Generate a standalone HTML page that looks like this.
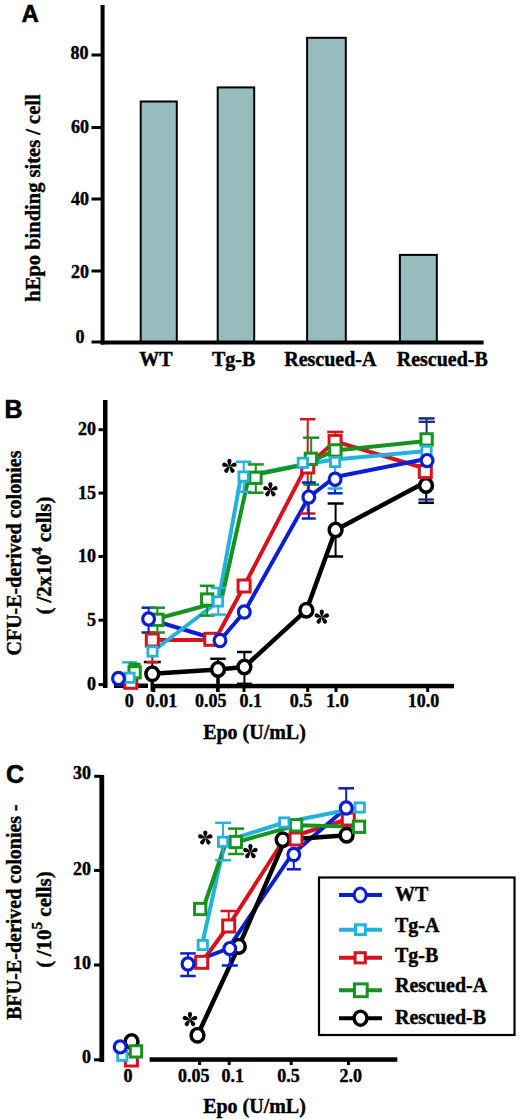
<!DOCTYPE html>
<html><head><meta charset="utf-8"><style>
html,body{margin:0;padding:0;background:#fff;}
svg{display:block;}
</style></head><body>
<svg width="520" height="1119" viewBox="0 0 520 1119">
<defs><g id="ast"><path id="pet" d="M0,0 C-0.9,-1.6 -2.1,-3.6 -2.1,-5.4 A2.1,2.1 0 1 1 2.1,-5.4 C2.1,-3.6 0.9,-1.6 0,0 Z" fill="#000"/><use href="#pet" transform="rotate(72)"/><use href="#pet" transform="rotate(144)"/><use href="#pet" transform="rotate(216)"/><use href="#pet" transform="rotate(288)"/></g></defs>
<rect width="520" height="1119" fill="#fff"/>
<text x="21.5" y="21.7" font-family="Liberation Sans" font-weight="bold" font-size="24" text-anchor="start" stroke="#000" stroke-width="0.6" stroke-linejoin="round" >A</text>
<rect x="100.6" y="5" width="4" height="339.5" fill="#000" stroke="none" stroke-width="0"/>
<rect x="91.5" y="53.5" width="10" height="3" fill="#000" stroke="none" stroke-width="0"/>
<text x="88.5" y="59.2" font-family="Liberation Serif" font-weight="bold" font-size="18" text-anchor="end" stroke="#000" stroke-width="0.4" stroke-linejoin="round" >80</text>
<rect x="91.5" y="126.0" width="10" height="3" fill="#000" stroke="none" stroke-width="0"/>
<text x="89" y="132.5" font-family="Liberation Serif" font-weight="bold" font-size="18" text-anchor="end" stroke="#000" stroke-width="0.4" stroke-linejoin="round" >60</text>
<rect x="91.5" y="197.5" width="10" height="3" fill="#000" stroke="none" stroke-width="0"/>
<text x="89" y="205" font-family="Liberation Serif" font-weight="bold" font-size="18" text-anchor="end" stroke="#000" stroke-width="0.4" stroke-linejoin="round" >40</text>
<rect x="91.5" y="269.5" width="10" height="3" fill="#000" stroke="none" stroke-width="0"/>
<text x="89" y="277.5" font-family="Liberation Serif" font-weight="bold" font-size="18" text-anchor="end" stroke="#000" stroke-width="0.4" stroke-linejoin="round" >20</text>
<rect x="91.5" y="340.5" width="10" height="3" fill="#000" stroke="none" stroke-width="0"/>
<text x="84.5" y="343" font-family="Liberation Serif" font-weight="bold" font-size="18" text-anchor="end" stroke="#000" stroke-width="0.4" stroke-linejoin="round" >0</text>
<rect x="140.7" y="101.5" width="36.10000000000002" height="241.5" fill="#97bcbe" stroke="#000" stroke-width="2"/>
<rect x="217.7" y="87.4" width="36.5" height="255.6" fill="#97bcbe" stroke="#000" stroke-width="2"/>
<rect x="307.1" y="37.8" width="38.69999999999999" height="305.2" fill="#97bcbe" stroke="#000" stroke-width="2"/>
<rect x="399.9" y="254.9" width="36.900000000000034" height="88.1" fill="#97bcbe" stroke="#000" stroke-width="2"/>
<rect x="100.6" y="340.5" width="383" height="4" fill="#000" stroke="none" stroke-width="0"/>
<text transform="translate(156,366) scale(1,1.07)" font-family="Liberation Serif" font-weight="bold" font-size="20" text-anchor="middle" stroke="#000" stroke-width="0.4" stroke-linejoin="round" >WT</text>
<text transform="translate(233.7,366) scale(1,1.07)" font-family="Liberation Serif" font-weight="bold" font-size="20" text-anchor="middle" stroke="#000" stroke-width="0.4" stroke-linejoin="round" >Tg-B</text>
<text transform="translate(330.3,366) scale(1,1.07)" font-family="Liberation Serif" font-weight="bold" font-size="20" text-anchor="middle" stroke="#000" stroke-width="0.4" stroke-linejoin="round" >Rescued-A</text>
<text transform="translate(442.3,366) scale(1,1.07)" font-family="Liberation Serif" font-weight="bold" font-size="20" text-anchor="middle" stroke="#000" stroke-width="0.4" stroke-linejoin="round" >Rescued-B</text>
<text transform="translate(39.5,198) rotate(-90)" font-family="Liberation Serif" font-weight="bold" font-size="20.5" text-anchor="middle" stroke="#000" stroke-width="0.4" stroke-linejoin="round">hEpo binding sites / cell</text>
<text x="4.5" y="418" font-family="Liberation Sans" font-weight="bold" font-size="25" text-anchor="start" stroke="#000" stroke-width="0.6" stroke-linejoin="round" >B</text>
<rect x="103" y="400" width="4.5" height="288" fill="#000" stroke="none" stroke-width="0"/>
<rect x="98.5" y="428.2" width="6" height="3" fill="#000" stroke="none" stroke-width="0"/>
<text x="96" y="435.2" font-family="Liberation Serif" font-weight="bold" font-size="18" text-anchor="end" stroke="#000" stroke-width="0.4" stroke-linejoin="round" >20</text>
<rect x="98.5" y="491.6" width="6" height="3" fill="#000" stroke="none" stroke-width="0"/>
<text x="96" y="498.5" font-family="Liberation Serif" font-weight="bold" font-size="18" text-anchor="end" stroke="#000" stroke-width="0.4" stroke-linejoin="round" >15</text>
<rect x="98.5" y="555.0" width="6" height="3" fill="#000" stroke="none" stroke-width="0"/>
<text x="96" y="562" font-family="Liberation Serif" font-weight="bold" font-size="18" text-anchor="end" stroke="#000" stroke-width="0.4" stroke-linejoin="round" >10</text>
<rect x="98.5" y="618.7" width="6" height="3" fill="#000" stroke="none" stroke-width="0"/>
<text x="96" y="625.5" font-family="Liberation Serif" font-weight="bold" font-size="18" text-anchor="end" stroke="#000" stroke-width="0.4" stroke-linejoin="round" >5</text>
<rect x="98.5" y="683.1" width="6" height="3" fill="#000" stroke="none" stroke-width="0"/>
<text x="96" y="690" font-family="Liberation Serif" font-weight="bold" font-size="18" text-anchor="end" stroke="#000" stroke-width="0.4" stroke-linejoin="round" >0</text>
<text transform="translate(20.5,553) rotate(-90)" font-family="Liberation Serif" font-weight="bold" font-size="20" text-anchor="middle" stroke="#000" stroke-width="0.4" stroke-linejoin="round">CFU-E-derived colonies</text>
<text transform="translate(50.5,555.5) rotate(-90)" font-family="Liberation Serif" font-weight="bold" font-size="21" text-anchor="middle" stroke="#000" stroke-width="0.4" stroke-linejoin="round">(<tspan dx="5">/2x10</tspan><tspan dy="-8.5" font-size="15">4</tspan><tspan dy="8.5"> cells)</tspan></text>
<rect x="114" y="683.5" width="34" height="4.5" fill="#000" stroke="none" stroke-width="0"/>
<rect x="151" y="683.8" width="303" height="4.5" fill="#000" stroke="none" stroke-width="0"/>
<rect x="152.3" y="686" width="3" height="6" fill="#000" stroke="none" stroke-width="0"/>
<rect x="216.0" y="686" width="3" height="6" fill="#000" stroke="none" stroke-width="0"/>
<rect x="242.5" y="686" width="3" height="6" fill="#000" stroke="none" stroke-width="0"/>
<rect x="306.2" y="686" width="3" height="6" fill="#000" stroke="none" stroke-width="0"/>
<rect x="334.5" y="686" width="3" height="6" fill="#000" stroke="none" stroke-width="0"/>
<rect x="426.2" y="686" width="3" height="6" fill="#000" stroke="none" stroke-width="0"/>
<text x="129.2" y="706.5" font-family="Liberation Serif" font-weight="bold" font-size="18" text-anchor="middle" stroke="#000" stroke-width="0.4" stroke-linejoin="round" >0</text>
<text x="161.5" y="706.5" font-family="Liberation Serif" font-weight="bold" font-size="18" text-anchor="middle" stroke="#000" stroke-width="0.4" stroke-linejoin="round" >0.01</text>
<text x="210.7" y="706.5" font-family="Liberation Serif" font-weight="bold" font-size="18" text-anchor="middle" stroke="#000" stroke-width="0.4" stroke-linejoin="round" >0.05</text>
<text x="250.7" y="706.5" font-family="Liberation Serif" font-weight="bold" font-size="18" text-anchor="middle" stroke="#000" stroke-width="0.4" stroke-linejoin="round" >0.1</text>
<text x="301" y="706.5" font-family="Liberation Serif" font-weight="bold" font-size="18" text-anchor="middle" stroke="#000" stroke-width="0.4" stroke-linejoin="round" >0.5</text>
<text x="337.5" y="706.5" font-family="Liberation Serif" font-weight="bold" font-size="18" text-anchor="middle" stroke="#000" stroke-width="0.4" stroke-linejoin="round" >1.0</text>
<text x="423.5" y="706.5" font-family="Liberation Serif" font-weight="bold" font-size="18" text-anchor="middle" stroke="#000" stroke-width="0.4" stroke-linejoin="round" >10.0</text>
<text transform="translate(254.5,738.5) scale(1,1.07)" font-family="Liberation Serif" font-weight="bold" font-size="20" text-anchor="middle" stroke="#000" stroke-width="0.4" stroke-linejoin="round" >Epo (U/mL)</text>
<polyline points="152.3,640 215,640 244.1,586 306,467 335.1,441.4 425.3,468.5" fill="none" stroke="#d8121c" stroke-width="4" stroke-linejoin="round"/>
<polyline points="148.6,619 220,640.5 244.3,612 308.8,497.1 335.1,477 427.1,458.8" fill="none" stroke="#0a1ed2" stroke-width="4" stroke-linejoin="round"/>
<polyline points="152.5,651.5 218.3,601.5 241,476.5 302.8,464.5 335.1,459.5 426.5,451" fill="none" stroke="#22b2dc" stroke-width="4" stroke-linejoin="round"/>
<polyline points="154,619.5 221,601.5 249,476 303,465 335.4,450.4 426.6,441" fill="none" stroke="#16921e" stroke-width="4" stroke-linejoin="round"/>
<polyline points="152.3,673.8 218,669.4 244.4,667 306.4,610.2 335.6,530 422,484" fill="none" stroke="#000" stroke-width="4.5" stroke-linejoin="round"/>
<line x1="129.6" y1="677.7" x2="129.6" y2="662.3" stroke="#22b2dc" stroke-width="2" stroke-linecap="butt"/>
<line x1="122.3" y1="662.3" x2="136.9" y2="662.3" stroke="#22b2dc" stroke-width="2.5" stroke-linecap="butt"/>
<line x1="134.6" y1="672.3" x2="134.6" y2="664" stroke="#16921e" stroke-width="2" stroke-linecap="butt"/>
<line x1="128.6" y1="664" x2="140.6" y2="664" stroke="#16921e" stroke-width="2.5" stroke-linecap="butt"/>
<line x1="148.6" y1="619" x2="148.6" y2="607.7" stroke="#0a1ed2" stroke-width="2" stroke-linecap="butt"/>
<line x1="141.6" y1="607.7" x2="155.6" y2="607.7" stroke="#0a1ed2" stroke-width="2.5" stroke-linecap="butt"/>
<line x1="148.6" y1="619" x2="148.6" y2="632.5" stroke="#0a1ed2" stroke-width="2" stroke-linecap="butt"/>
<line x1="141.6" y1="632.5" x2="155.6" y2="632.5" stroke="#0a1ed2" stroke-width="2.5" stroke-linecap="butt"/>
<line x1="157.4" y1="619.8" x2="157.4" y2="607.7" stroke="#16921e" stroke-width="2" stroke-linecap="butt"/>
<line x1="149.9" y1="607.7" x2="164.9" y2="607.7" stroke="#16921e" stroke-width="2.5" stroke-linecap="butt"/>
<line x1="157.4" y1="619.8" x2="157.4" y2="632.5" stroke="#16921e" stroke-width="2" stroke-linecap="butt"/>
<line x1="149.9" y1="632.5" x2="164.9" y2="632.5" stroke="#16921e" stroke-width="2.5" stroke-linecap="butt"/>
<line x1="152.3" y1="673.8" x2="152.3" y2="662" stroke="#000" stroke-width="2" stroke-linecap="butt"/>
<line x1="143.8" y1="662" x2="160.8" y2="662" stroke="#000" stroke-width="2.5" stroke-linecap="butt"/>
<line x1="152.3" y1="673.8" x2="152.3" y2="691.5" stroke="#000" stroke-width="3.5" stroke-linecap="butt"/>
<line x1="152.3" y1="640" x2="152.3" y2="662.3" stroke="#d8121c" stroke-width="2" stroke-linecap="butt"/>
<line x1="146.3" y1="662.3" x2="158.3" y2="662.3" stroke="#d8121c" stroke-width="2.5" stroke-linecap="butt"/>
<line x1="218" y1="669.4" x2="218" y2="658.8" stroke="#000" stroke-width="2" stroke-linecap="butt"/>
<line x1="210.3" y1="658.8" x2="225.7" y2="658.8" stroke="#000" stroke-width="2.5" stroke-linecap="butt"/>
<line x1="218" y1="669.4" x2="218" y2="692" stroke="#000" stroke-width="3.5" stroke-linecap="butt"/>
<line x1="207.2" y1="599.5" x2="207.2" y2="585.8" stroke="#16921e" stroke-width="2" stroke-linecap="butt"/>
<line x1="199.79999999999998" y1="585.8" x2="214.6" y2="585.8" stroke="#16921e" stroke-width="2.5" stroke-linecap="butt"/>
<line x1="207.2" y1="599.5" x2="207.2" y2="615.6" stroke="#16921e" stroke-width="2" stroke-linecap="butt"/>
<line x1="199.79999999999998" y1="615.6" x2="214.6" y2="615.6" stroke="#16921e" stroke-width="2.5" stroke-linecap="butt"/>
<line x1="218.3" y1="601.5" x2="218.3" y2="588" stroke="#22b2dc" stroke-width="2" stroke-linecap="butt"/>
<line x1="210.70000000000002" y1="588" x2="225.9" y2="588" stroke="#22b2dc" stroke-width="2.5" stroke-linecap="butt"/>
<line x1="218.3" y1="601.5" x2="218.3" y2="614.6" stroke="#22b2dc" stroke-width="2" stroke-linecap="butt"/>
<line x1="210.70000000000002" y1="614.6" x2="225.9" y2="614.6" stroke="#22b2dc" stroke-width="2.5" stroke-linecap="butt"/>
<line x1="244.4" y1="667" x2="244.4" y2="652" stroke="#000" stroke-width="2" stroke-linecap="butt"/>
<line x1="237.0" y1="652" x2="251.8" y2="652" stroke="#000" stroke-width="2.5" stroke-linecap="butt"/>
<line x1="244.4" y1="667" x2="244.4" y2="683.8" stroke="#000" stroke-width="2" stroke-linecap="butt"/>
<line x1="237.0" y1="683.8" x2="251.8" y2="683.8" stroke="#000" stroke-width="2.5" stroke-linecap="butt"/>
<line x1="243.7" y1="476.5" x2="243.7" y2="461.8" stroke="#22b2dc" stroke-width="2" stroke-linecap="butt"/>
<line x1="236.0" y1="461.8" x2="251.39999999999998" y2="461.8" stroke="#22b2dc" stroke-width="2.5" stroke-linecap="butt"/>
<line x1="243.7" y1="476.5" x2="243.7" y2="491.7" stroke="#22b2dc" stroke-width="2" stroke-linecap="butt"/>
<line x1="236.0" y1="491.7" x2="251.39999999999998" y2="491.7" stroke="#22b2dc" stroke-width="2.5" stroke-linecap="butt"/>
<line x1="255.8" y1="477.8" x2="255.8" y2="464.4" stroke="#16921e" stroke-width="2" stroke-linecap="butt"/>
<line x1="247.8" y1="464.4" x2="263.8" y2="464.4" stroke="#16921e" stroke-width="2.5" stroke-linecap="butt"/>
<line x1="255.8" y1="477.8" x2="255.8" y2="492.7" stroke="#16921e" stroke-width="2" stroke-linecap="butt"/>
<line x1="248.10000000000002" y1="492.7" x2="263.5" y2="492.7" stroke="#16921e" stroke-width="2.5" stroke-linecap="butt"/>
<line x1="307.7" y1="467" x2="307.7" y2="419.2" stroke="#d8121c" stroke-width="2" stroke-linecap="butt"/>
<line x1="300.0" y1="419.2" x2="315.4" y2="419.2" stroke="#d8121c" stroke-width="2.5" stroke-linecap="butt"/>
<line x1="307.7" y1="467" x2="307.7" y2="513.5" stroke="#d8121c" stroke-width="2" stroke-linecap="butt"/>
<line x1="300.0" y1="513.5" x2="315.4" y2="513.5" stroke="#d8121c" stroke-width="2.5" stroke-linecap="butt"/>
<line x1="311.2" y1="458.8" x2="311.2" y2="437.7" stroke="#16921e" stroke-width="2" stroke-linecap="butt"/>
<line x1="303.09999999999997" y1="437.7" x2="319.3" y2="437.7" stroke="#16921e" stroke-width="2.5" stroke-linecap="butt"/>
<line x1="311.2" y1="458.8" x2="311.2" y2="484.6" stroke="#16921e" stroke-width="2" stroke-linecap="butt"/>
<line x1="303.3" y1="484.6" x2="319.09999999999997" y2="484.6" stroke="#16921e" stroke-width="2.5" stroke-linecap="butt"/>
<line x1="308.8" y1="497.1" x2="308.8" y2="482.5" stroke="#0a1ed2" stroke-width="2" stroke-linecap="butt"/>
<line x1="301.8" y1="482.5" x2="315.8" y2="482.5" stroke="#0a1ed2" stroke-width="2.5" stroke-linecap="butt"/>
<line x1="308.8" y1="497.1" x2="308.8" y2="518.5" stroke="#0a1ed2" stroke-width="2" stroke-linecap="butt"/>
<line x1="301.8" y1="518.5" x2="315.8" y2="518.5" stroke="#0a1ed2" stroke-width="2.5" stroke-linecap="butt"/>
<line x1="335.3" y1="441.4" x2="335.3" y2="431.9" stroke="#d8121c" stroke-width="2" stroke-linecap="butt"/>
<line x1="327.2" y1="431.9" x2="343.40000000000003" y2="431.9" stroke="#d8121c" stroke-width="2.5" stroke-linecap="butt"/>
<line x1="335.1" y1="479.3" x2="335.1" y2="493.3" stroke="#0a1ed2" stroke-width="2" stroke-linecap="butt"/>
<line x1="327.6" y1="493.3" x2="342.6" y2="493.3" stroke="#0a1ed2" stroke-width="2.5" stroke-linecap="butt"/>
<line x1="335.1" y1="462" x2="335.1" y2="488.5" stroke="#22b2dc" stroke-width="2" stroke-linecap="butt"/>
<line x1="327.6" y1="488.5" x2="342.6" y2="488.5" stroke="#22b2dc" stroke-width="2.5" stroke-linecap="butt"/>
<line x1="335.6" y1="530" x2="335.6" y2="503.5" stroke="#000" stroke-width="2" stroke-linecap="butt"/>
<line x1="327.6" y1="503.5" x2="343.6" y2="503.5" stroke="#000" stroke-width="2.5" stroke-linecap="butt"/>
<line x1="335.6" y1="530" x2="335.6" y2="556.5" stroke="#000" stroke-width="2" stroke-linecap="butt"/>
<line x1="328.1" y1="556.5" x2="343.1" y2="556.5" stroke="#000" stroke-width="2.5" stroke-linecap="butt"/>
<line x1="426.6" y1="439.4" x2="426.6" y2="418.4" stroke="#1b2a7a" stroke-width="2" stroke-linecap="butt"/>
<line x1="418.6" y1="418.4" x2="434.6" y2="418.4" stroke="#1b2a7a" stroke-width="2.5" stroke-linecap="butt"/>
<line x1="418.7" y1="421.8" x2="434.9" y2="421.8" stroke="#1b2a7a" stroke-width="2.3" stroke-linecap="butt"/>
<line x1="426.2" y1="485.5" x2="426.2" y2="502.8" stroke="#000" stroke-width="2" stroke-linecap="butt"/>
<line x1="418.4" y1="502.8" x2="434.0" y2="502.8" stroke="#000" stroke-width="2.5" stroke-linecap="butt"/>
<line x1="418.4" y1="499.5" x2="433.9" y2="499.5" stroke="#1b2a7a" stroke-width="2.3" stroke-linecap="butt"/>
<ellipse cx="152.3" cy="673.8" rx="6.4" ry="6.8" fill="#fff" stroke="#000" stroke-width="3.5"/>
<ellipse cx="218" cy="669.4" rx="6.4" ry="6.8" fill="#fff" stroke="#000" stroke-width="3.5"/>
<ellipse cx="244.4" cy="667" rx="6.4" ry="6.8" fill="#fff" stroke="#000" stroke-width="3.5"/>
<ellipse cx="306.4" cy="610.2" rx="6.4" ry="6.8" fill="#fff" stroke="#000" stroke-width="3.5"/>
<ellipse cx="335.6" cy="530" rx="6.4" ry="6.8" fill="#fff" stroke="#000" stroke-width="3.5"/>
<ellipse cx="426" cy="485.5" rx="6.4" ry="6.8" fill="#fff" stroke="#000" stroke-width="3.5"/>
<rect x="146.3" y="634.0" width="12" height="12" fill="#fff" stroke="#d8121c" stroke-width="3"/>
<rect x="204.8" y="633.3" width="12" height="12" fill="#fff" stroke="#d8121c" stroke-width="3"/>
<rect x="238.1" y="580.0" width="12" height="12" fill="#fff" stroke="#d8121c" stroke-width="3"/>
<rect x="301.7" y="461.0" width="12" height="12" fill="#fff" stroke="#d8121c" stroke-width="3"/>
<rect x="329.1" y="435.4" width="12" height="12" fill="#fff" stroke="#d8121c" stroke-width="3"/>
<rect x="419.3" y="465.6" width="12" height="12" fill="#fff" stroke="#d8121c" stroke-width="3"/>
<rect x="124.80000000000001" y="676.3" width="12" height="12" fill="#fff" stroke="#d8121c" stroke-width="3"/>
<rect x="151.75" y="614.15" width="11.3" height="11.3" fill="#fff" stroke="#16921e" stroke-width="3"/>
<rect x="201.54999999999998" y="593.85" width="11.3" height="11.3" fill="#fff" stroke="#16921e" stroke-width="3"/>
<rect x="249.85" y="472.15000000000003" width="11.3" height="11.3" fill="#fff" stroke="#16921e" stroke-width="3"/>
<rect x="305.25" y="453.15000000000003" width="11.3" height="11.3" fill="#fff" stroke="#16921e" stroke-width="3"/>
<rect x="329.75" y="444.75" width="11.3" height="11.3" fill="#fff" stroke="#16921e" stroke-width="3"/>
<rect x="420.95000000000005" y="433.75" width="11.3" height="11.3" fill="#fff" stroke="#16921e" stroke-width="3"/>
<rect x="128.95" y="666.65" width="11.3" height="11.3" fill="#fff" stroke="#16921e" stroke-width="3"/>
<rect x="147.85" y="646.85" width="9.3" height="9.3" fill="#fff" stroke="#22b2dc" stroke-width="2.8"/>
<rect x="213.35" y="596.85" width="9.3" height="9.3" fill="#fff" stroke="#22b2dc" stroke-width="2.8"/>
<rect x="238.95" y="471.85" width="9.3" height="9.3" fill="#fff" stroke="#22b2dc" stroke-width="2.8"/>
<rect x="298.15000000000003" y="458.15000000000003" width="9.3" height="9.3" fill="#fff" stroke="#22b2dc" stroke-width="2.8"/>
<rect x="330.45000000000005" y="457.35" width="9.3" height="9.3" fill="#fff" stroke="#22b2dc" stroke-width="2.8"/>
<rect x="421.85" y="446.35" width="9.3" height="9.3" fill="#fff" stroke="#22b2dc" stroke-width="2.8"/>
<rect x="124.94999999999999" y="673.0500000000001" width="9.3" height="9.3" fill="#fff" stroke="#22b2dc" stroke-width="2.8"/>
<ellipse cx="148.6" cy="619" rx="5.9" ry="6.1" fill="#fff" stroke="#0a1ed2" stroke-width="3.2"/>
<ellipse cx="220" cy="640.5" rx="5.9" ry="6.1" fill="#fff" stroke="#0a1ed2" stroke-width="3.2"/>
<ellipse cx="244.3" cy="612" rx="5.9" ry="6.1" fill="#fff" stroke="#0a1ed2" stroke-width="3.2"/>
<ellipse cx="308.8" cy="497.1" rx="5.9" ry="6.1" fill="#fff" stroke="#0a1ed2" stroke-width="3.2"/>
<ellipse cx="335.1" cy="479.3" rx="5.9" ry="6.1" fill="#fff" stroke="#0a1ed2" stroke-width="3.2"/>
<ellipse cx="427.1" cy="460.6" rx="5.9" ry="6.1" fill="#fff" stroke="#0a1ed2" stroke-width="3.2"/>
<ellipse cx="118.5" cy="678.5" rx="5.9" ry="6.1" fill="#fff" stroke="#0a1ed2" stroke-width="3.2"/>
<use href="#ast" x="229.4" y="466.3"/>
<use href="#ast" x="270.4" y="489.8"/>
<use href="#ast" x="321.8" y="617.1"/>
<text x="6" y="782.8" font-family="Liberation Sans" font-weight="bold" font-size="25" text-anchor="start" stroke="#000" stroke-width="0.6" stroke-linejoin="round" >C</text>
<rect x="99.4" y="775" width="4.8" height="287" fill="#000" stroke="none" stroke-width="0"/>
<rect x="94.2" y="774.8" width="7" height="3" fill="#000" stroke="none" stroke-width="0"/>
<rect x="94" y="868.9" width="7" height="3" fill="#000" stroke="none" stroke-width="0"/>
<text x="91" y="874.6" font-family="Liberation Serif" font-weight="bold" font-size="18" text-anchor="end" stroke="#000" stroke-width="0.4" stroke-linejoin="round" >20</text>
<rect x="94" y="963.5" width="7" height="3" fill="#000" stroke="none" stroke-width="0"/>
<text x="91" y="968.8" font-family="Liberation Serif" font-weight="bold" font-size="18" text-anchor="end" stroke="#000" stroke-width="0.4" stroke-linejoin="round" >10</text>
<rect x="94" y="1058.3" width="7" height="3" fill="#000" stroke="none" stroke-width="0"/>
<text x="91" y="1063" font-family="Liberation Serif" font-weight="bold" font-size="18" text-anchor="end" stroke="#000" stroke-width="0.4" stroke-linejoin="round" >0</text>
<text x="91" y="778.8" font-family="Liberation Serif" font-weight="bold" font-size="18" text-anchor="end" stroke="#000" stroke-width="0.4" stroke-linejoin="round" >30</text>
<text transform="translate(21,912) rotate(-90)" font-family="Liberation Serif" font-weight="bold" font-size="20" text-anchor="middle" stroke="#000" stroke-width="0.4" stroke-linejoin="round">BFU-E-derived colonies -</text>
<text transform="translate(50.5,919.5) rotate(-90)" font-family="Liberation Serif" font-weight="bold" font-size="21" text-anchor="middle" stroke="#000" stroke-width="0.4" stroke-linejoin="round">(<tspan dx="4.5">/10</tspan><tspan dy="-8.5" font-size="15">5</tspan><tspan dy="8.5"> cells)</tspan></text>
<rect x="149.6" y="1057.3" width="247.7" height="4.5" fill="#000" stroke="none" stroke-width="0"/>
<rect x="198.1" y="1060" width="3" height="5" fill="#000" stroke="none" stroke-width="0"/>
<rect x="227.7" y="1060" width="3" height="5" fill="#000" stroke="none" stroke-width="0"/>
<rect x="289.7" y="1060" width="3" height="5" fill="#000" stroke="none" stroke-width="0"/>
<rect x="347.0" y="1060" width="3" height="5" fill="#000" stroke="none" stroke-width="0"/>
<text x="128" y="1081.5" font-family="Liberation Serif" font-weight="bold" font-size="18" text-anchor="middle" stroke="#000" stroke-width="0.4" stroke-linejoin="round" >0</text>
<text x="193.8" y="1081.5" font-family="Liberation Serif" font-weight="bold" font-size="18" text-anchor="middle" stroke="#000" stroke-width="0.4" stroke-linejoin="round" >0.05</text>
<text x="232.8" y="1081.5" font-family="Liberation Serif" font-weight="bold" font-size="18" text-anchor="middle" stroke="#000" stroke-width="0.4" stroke-linejoin="round" >0.1</text>
<text x="288.5" y="1081.5" font-family="Liberation Serif" font-weight="bold" font-size="18" text-anchor="middle" stroke="#000" stroke-width="0.4" stroke-linejoin="round" >0.5</text>
<text x="350.8" y="1081.5" font-family="Liberation Serif" font-weight="bold" font-size="18" text-anchor="middle" stroke="#000" stroke-width="0.4" stroke-linejoin="round" >2.0</text>
<text transform="translate(254.5,1112.5) scale(1,1.07)" font-family="Liberation Serif" font-weight="bold" font-size="20" text-anchor="middle" stroke="#000" stroke-width="0.4" stroke-linejoin="round" >Epo (U/mL)</text>
<polyline points="201.7,962.3 228.7,925.5 284.3,839 348.3,819" fill="none" stroke="#d8121c" stroke-width="4" stroke-linejoin="round"/>
<polyline points="188,964 228,948.6 291.5,855 346.2,808" fill="none" stroke="#0a1ed2" stroke-width="4" stroke-linejoin="round"/>
<polyline points="202,945 225,841.3 284.3,822.5 359.7,807.5" fill="none" stroke="#22b2dc" stroke-width="4" stroke-linejoin="round"/>
<polyline points="203,909 226,842 236.1,842.3 296.1,825.3 359,826.8" fill="none" stroke="#16921e" stroke-width="4" stroke-linejoin="round"/>
<polyline points="197.5,1035.3 238.8,946.4 285,839.7 346.6,835.2" fill="none" stroke="#000" stroke-width="4.5" stroke-linejoin="round"/>
<line x1="223.1" y1="841.3" x2="223.1" y2="822.8" stroke="#22b2dc" stroke-width="2" stroke-linecap="butt"/>
<line x1="215.2" y1="822.8" x2="231.0" y2="822.8" stroke="#22b2dc" stroke-width="2.5" stroke-linecap="butt"/>
<line x1="223.1" y1="841.3" x2="223.1" y2="860.3" stroke="#22b2dc" stroke-width="2" stroke-linecap="butt"/>
<line x1="215.2" y1="860.3" x2="231.0" y2="860.3" stroke="#22b2dc" stroke-width="2.5" stroke-linecap="butt"/>
<line x1="236.1" y1="842.3" x2="236.1" y2="828.6" stroke="#16921e" stroke-width="2" stroke-linecap="butt"/>
<line x1="228.1" y1="828.6" x2="244.1" y2="828.6" stroke="#16921e" stroke-width="2.5" stroke-linecap="butt"/>
<line x1="236.1" y1="842.3" x2="236.1" y2="854" stroke="#16921e" stroke-width="2" stroke-linecap="butt"/>
<line x1="228.1" y1="854" x2="244.1" y2="854" stroke="#16921e" stroke-width="2.5" stroke-linecap="butt"/>
<line x1="228.7" y1="926" x2="228.7" y2="911" stroke="#d8121c" stroke-width="2" stroke-linecap="butt"/>
<line x1="220.5" y1="911" x2="236.89999999999998" y2="911" stroke="#d8121c" stroke-width="2.5" stroke-linecap="butt"/>
<line x1="188" y1="964" x2="188" y2="953.4" stroke="#0a1ed2" stroke-width="2" stroke-linecap="butt"/>
<line x1="180.3" y1="953.4" x2="195.7" y2="953.4" stroke="#0a1ed2" stroke-width="2.5" stroke-linecap="butt"/>
<line x1="188" y1="964" x2="188" y2="976" stroke="#0a1ed2" stroke-width="2" stroke-linecap="butt"/>
<line x1="180.3" y1="976" x2="195.7" y2="976" stroke="#0a1ed2" stroke-width="2.5" stroke-linecap="butt"/>
<line x1="229.8" y1="948.6" x2="229.8" y2="965.5" stroke="#0a1ed2" stroke-width="2" stroke-linecap="butt"/>
<line x1="221.8" y1="965.5" x2="237.8" y2="965.5" stroke="#0a1ed2" stroke-width="2.5" stroke-linecap="butt"/>
<line x1="293.8" y1="854.5" x2="293.8" y2="869.3" stroke="#0a1ed2" stroke-width="2" stroke-linecap="butt"/>
<line x1="286.7" y1="869.3" x2="300.90000000000003" y2="869.3" stroke="#0a1ed2" stroke-width="2.5" stroke-linecap="butt"/>
<line x1="346.2" y1="808" x2="346.2" y2="788.3" stroke="#0a1ed2" stroke-width="2" stroke-linecap="butt"/>
<line x1="338.4" y1="788.3" x2="354.0" y2="788.3" stroke="#0a1ed2" stroke-width="2.5" stroke-linecap="butt"/>
<ellipse cx="197.5" cy="1035.3" rx="6.4" ry="6.8" fill="#fff" stroke="#000" stroke-width="3.5"/>
<ellipse cx="238.8" cy="946.4" rx="6.4" ry="6.8" fill="#fff" stroke="#000" stroke-width="3.5"/>
<ellipse cx="282.7" cy="839.7" rx="6.4" ry="6.8" fill="#fff" stroke="#000" stroke-width="3.5"/>
<ellipse cx="346.6" cy="835.2" rx="6.4" ry="6.8" fill="#fff" stroke="#000" stroke-width="3.5"/>
<ellipse cx="131.6" cy="1041.6" rx="6.4" ry="6.8" fill="#fff" stroke="#000" stroke-width="3.5"/>
<rect x="195.7" y="956.3" width="12" height="12" fill="#fff" stroke="#d8121c" stroke-width="3"/>
<rect x="222.7" y="920.0" width="12" height="12" fill="#fff" stroke="#d8121c" stroke-width="3"/>
<rect x="290.0" y="833.0" width="12" height="12" fill="#fff" stroke="#d8121c" stroke-width="3"/>
<rect x="342.3" y="813.0" width="12" height="12" fill="#fff" stroke="#d8121c" stroke-width="3"/>
<rect x="125.4" y="1054.0" width="12" height="12" fill="#fff" stroke="#d8121c" stroke-width="3"/>
<rect x="194.54999999999998" y="903.35" width="11.3" height="11.3" fill="#fff" stroke="#16921e" stroke-width="3"/>
<rect x="230.15" y="836.35" width="11.3" height="11.3" fill="#fff" stroke="#16921e" stroke-width="3"/>
<rect x="290.45000000000005" y="819.65" width="11.3" height="11.3" fill="#fff" stroke="#16921e" stroke-width="3"/>
<rect x="353.35" y="821.15" width="11.3" height="11.3" fill="#fff" stroke="#16921e" stroke-width="3"/>
<rect x="130.35" y="1045.75" width="11.3" height="11.3" fill="#fff" stroke="#16921e" stroke-width="3"/>
<rect x="198.15" y="940.35" width="9.3" height="9.3" fill="#fff" stroke="#22b2dc" stroke-width="2.8"/>
<rect x="218.35" y="837.15" width="9.3" height="9.3" fill="#fff" stroke="#22b2dc" stroke-width="2.8"/>
<rect x="279.65000000000003" y="817.85" width="9.3" height="9.3" fill="#fff" stroke="#22b2dc" stroke-width="2.8"/>
<rect x="355.05" y="802.85" width="9.3" height="9.3" fill="#fff" stroke="#22b2dc" stroke-width="2.8"/>
<rect x="117.64999999999999" y="1051.1499999999999" width="9.3" height="9.3" fill="#fff" stroke="#22b2dc" stroke-width="2.8"/>
<ellipse cx="188" cy="964" rx="5.9" ry="6.1" fill="#fff" stroke="#0a1ed2" stroke-width="3.2"/>
<ellipse cx="229.8" cy="948.6" rx="5.9" ry="6.1" fill="#fff" stroke="#0a1ed2" stroke-width="3.2"/>
<ellipse cx="293.8" cy="854.5" rx="5.9" ry="6.1" fill="#fff" stroke="#0a1ed2" stroke-width="3.2"/>
<ellipse cx="346.2" cy="808" rx="5.9" ry="6.1" fill="#fff" stroke="#0a1ed2" stroke-width="3.2"/>
<ellipse cx="120.2" cy="1046.9" rx="5.9" ry="6.1" fill="#fff" stroke="#0a1ed2" stroke-width="3.2"/>
<use href="#ast" x="205.3" y="838"/>
<use href="#ast" x="250.4" y="851.6"/>
<use href="#ast" x="190" y="1019.6"/>
<rect x="319" y="877.5" width="195.5" height="157.5" fill="#fff" stroke="#000" stroke-width="2.2"/>
<line x1="339" y1="895" x2="382" y2="895" stroke="#0a1ed2" stroke-width="4" stroke-linecap="butt"/>
<ellipse cx="360.2" cy="895" rx="6" ry="6.9" fill="#fff" stroke="#0a1ed2" stroke-width="3"/>
<text transform="translate(395,901.2) scale(1,1.07)" font-family="Liberation Serif" font-weight="bold" font-size="20" text-anchor="start" stroke="#000" stroke-width="0.4" stroke-linejoin="round" >WT</text>
<line x1="339" y1="929.7" x2="382" y2="929.7" stroke="#22b2dc" stroke-width="4" stroke-linecap="butt"/>
<rect x="355.5" y="924.8000000000001" width="9.8" height="9.8" fill="#fff" stroke="#22b2dc" stroke-width="3"/>
<text transform="translate(395,931.9) scale(1,1.07)" font-family="Liberation Serif" font-weight="bold" font-size="20" text-anchor="start" stroke="#000" stroke-width="0.4" stroke-linejoin="round" >Tg-A</text>
<line x1="339" y1="957.8" x2="382" y2="957.8" stroke="#d8121c" stroke-width="4" stroke-linecap="butt"/>
<rect x="355.09999999999997" y="952.6999999999999" width="10.2" height="10.2" fill="#fff" stroke="#d8121c" stroke-width="3"/>
<text transform="translate(395,962.2) scale(1,1.07)" font-family="Liberation Serif" font-weight="bold" font-size="20" text-anchor="start" stroke="#000" stroke-width="0.4" stroke-linejoin="round" >Tg-B</text>
<line x1="339" y1="990.3" x2="382" y2="990.3" stroke="#16921e" stroke-width="4" stroke-linecap="butt"/>
<rect x="354.40000000000003" y="983.9" width="12.8" height="12.8" fill="#fff" stroke="#16921e" stroke-width="3"/>
<text transform="translate(395,992.4) scale(1,1.07)" font-family="Liberation Serif" font-weight="bold" font-size="20" text-anchor="start" stroke="#000" stroke-width="0.4" stroke-linejoin="round" >Rescued-A</text>
<line x1="339" y1="1018.2" x2="382" y2="1018.2" stroke="#000" stroke-width="4" stroke-linecap="butt"/>
<ellipse cx="360.5" cy="1018.2" rx="6.4" ry="7.1" fill="#fff" stroke="#000" stroke-width="3.4"/>
<text transform="translate(395,1023.6) scale(1,1.07)" font-family="Liberation Serif" font-weight="bold" font-size="20" text-anchor="start" stroke="#000" stroke-width="0.4" stroke-linejoin="round" >Rescued-B</text>
</svg>
</body></html>
